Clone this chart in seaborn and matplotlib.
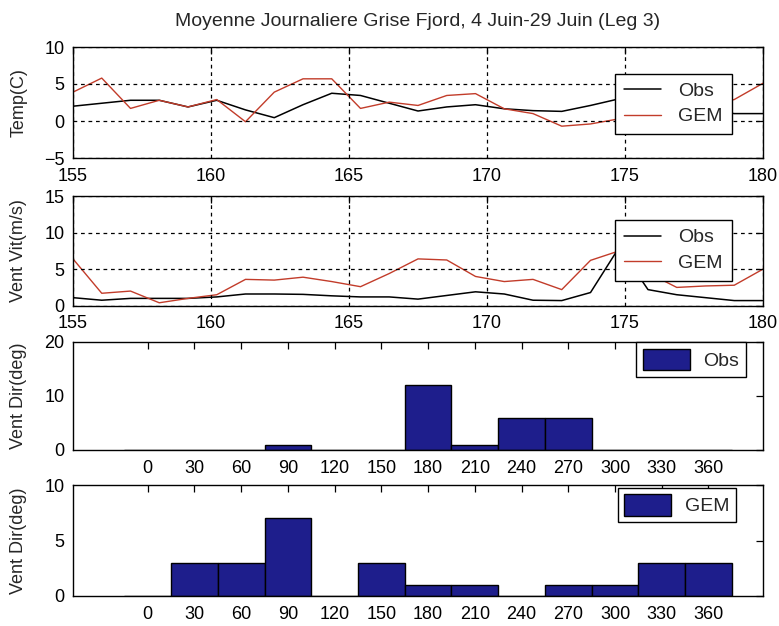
import numpy as np
import matplotlib
matplotlib.use('Agg')
import matplotlib.pyplot as plt
from matplotlib.patches import Patch
from matplotlib.lines import Line2D
import seaborn as sns

# ── Data ──────────────────────────────────────────────────────────────────────
days = np.linspace(155, 180, 25)

temp_obs = [2.0, 2.4, 2.8, 2.8, 1.9, 2.8, 1.5, 0.45, 2.2, 3.75, 3.45, 2.4, 1.35,
            1.9, 2.2, 1.65, 1.4, 1.3, 2.1, 3.0, 3.5, 2.5, 1.5, 1.0, 1.0]
temp_gem = [3.9, 5.8, 1.7, 2.8, 1.9, 2.9, -0.1, 3.9, 5.7, 5.7, 1.7, 2.55, 2.1,
            3.45, 3.7, 1.65, 1.0, -0.7, -0.4, 0.3, 0.6, 1.2, 2.0, 2.9, 5.1]

wind_obs = [1.1, 0.75, 1.0, 1.0, 1.0, 1.2, 1.6, 1.6, 1.55, 1.35, 1.2, 1.2, 0.9,
            1.4, 1.9, 1.6, 0.75, 0.7, 1.8, 8.0, 2.2, 1.5, 1.1, 0.7, 0.7]
wind_gem = [6.4, 1.7, 2.0, 0.4, 1.0, 1.5, 3.6, 3.5, 3.9, 3.3, 2.6, 4.4, 6.4,
            6.25, 4.0, 3.3, 3.6, 2.2, 6.2, 7.5, 4.5, 2.5, 2.7, 2.8, 5.0]

dir_bins = [0, 30, 60, 90, 120, 150, 180, 210, 240, 270, 300, 330, 360]
dir_obs = [0, 0, 0, 1, 0, 0, 12, 1, 6, 6, 0, 0, 0]
dir_gem = [0, 3, 3, 7, 0, 3, 1, 1, 0, 1, 1, 3, 3]

TITLE = 'Moyenne Journaliere Grise Fjord, 4 Juin-29 Juin (Leg 3)'

# ── Style ─────────────────────────────────────────────────────────────────────
sns.set_style('white')
plt.rcParams['font.family'] = ['Liberation Sans', 'DejaVu Sans']
RED = '#c23c2a'
NAVY = '#1e1e8c'
W, H = 779, 626


def px_axes(top, bottom, left=73, right=763):
    return [left / W, 1 - bottom / H, (right - left) / W, (bottom - top) / H]


def style_axes(ax):
    for s in ax.spines.values():
        s.set_color('black')
        s.set_linewidth(1.0)
    ax.tick_params(direction='in', top=True, right=True, length=5,
                   width=0.9, colors='black', labelsize=13)
    ax.tick_params(axis='x', pad=7)
    ax.tick_params(axis='y', pad=6)


def legend_box(ax, handles, labels, cx, cy, **kw):
    leg = ax.legend(handles, labels, loc='center', bbox_to_anchor=(cx, cy),
                    frameon=True, fancybox=False, framealpha=1,
                    edgecolor='black', fontsize=14, **kw)
    leg.get_frame().set_linewidth(1.0)
    leg.set_zorder(10)
    return leg


fig = plt.figure(figsize=(W / 100, H / 100), dpi=100)
fig.patch.set_facecolor('white')

# ── Time series panels ───────────────────────────────────────────────────────
ax1 = fig.add_axes(px_axes(47, 158))
ax2 = fig.add_axes(px_axes(196, 305.7))

for ax, obs, gem, ylim, yticks, ylab, cy in [
        (ax1, temp_obs, temp_gem, (-5, 10), [-5, 0, 5, 10], 'Temp(C)', 0.488),
        (ax2, wind_obs, wind_gem, (0, 15), [0, 5, 10, 15], 'Vent Vit(m/s)', 0.505)]:
    sns.lineplot(x=days, y=obs, color='black', lw=1.1, ax=ax)
    sns.lineplot(x=days, y=gem, color=RED, lw=1.0, ax=ax)
    ax.set_xlim(155, 180)
    ax.set_ylim(*ylim)
    ax.set_xticks([155, 160, 165, 170, 175, 180])
    ax.set_yticks(yticks)
    ax.grid(True, color='black', linestyle=(0, (3, 3)), lw=0.9)
    ax.set_axisbelow(False)
    ax.set_ylabel(ylab, fontsize=13)
    ax.yaxis.set_label_coords(-0.066, 0.5)
    style_axes(ax)
    handles = [Line2D([], [], color='black', lw=1.1),
               Line2D([], [], color=RED, lw=1.0)]
    legend_box(ax, handles, ['Obs', 'GEM'], 0.870, cy, handlelength=1.9,
               labelspacing=0.4, borderpad=0.45, handletextpad=0.9)

# ── Wind direction histograms ────────────────────────────────────────────────
ax3 = fig.add_axes(px_axes(341.7, 450))
ax4 = fig.add_axes(px_axes(485, 596))

for ax, counts, ylim, yticks, lab, cx, cy in [
        (ax3, dir_obs, (0, 20), [0, 10, 20], 'Obs', 0.896, 0.836),
        (ax4, dir_gem, (0, 10), [0, 5, 10], 'GEM', 0.875, 0.82)]:
    sns.barplot(x=dir_bins, y=counts, native_scale=True, width=1.0,
                color=NAVY, saturation=1, edgecolor='black', linewidth=1.0,
                errorbar=None, ax=ax)
    ax.set_xlim(-48, 395)
    ax.set_ylim(*ylim)
    ax.set_xticks(dir_bins)
    ax.set_xticklabels([str(b) for b in dir_bins])
    ax.set_yticks(yticks)
    ax.set_xlabel('')
    ax.set_ylabel('Vent Dir(deg)', fontsize=13)
    ax.yaxis.set_label_coords(-0.066, 0.5)
    style_axes(ax)
    legend_box(ax, [Patch(facecolor=NAVY, edgecolor='black', lw=1.0)], [lab],
               cx, cy, handlelength=2.4, handleheight=1.3, borderpad=0.35,
               handletextpad=0.7)

fig.text(418 / W, 1 - 22 / H, TITLE, ha='center', va='center', fontsize=14)

fig.savefig('out.png', dpi=100, facecolor='white')
